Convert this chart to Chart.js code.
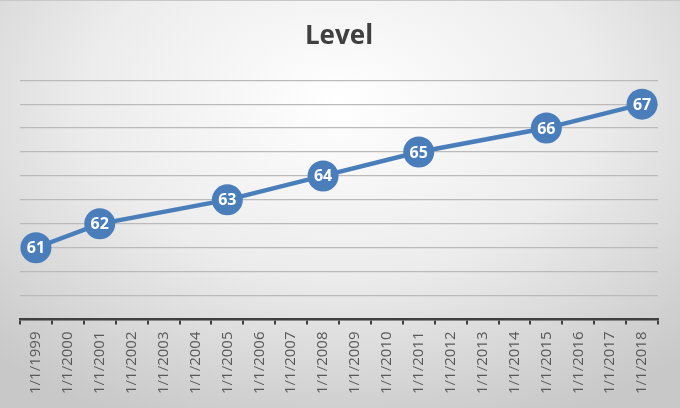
<!DOCTYPE html>
<html>
<head>
<meta charset="utf-8">
<script src="https://cdn.jsdelivr.net/npm/chart.js@4/dist/chart.umd.min.js"></script>
<style>
html,body{margin:0;padding:0;}
body{width:680px;height:408px;overflow:hidden;
background: radial-gradient(ellipse 75% 85% at 50% 25%, #ffffff 0%, #ececec 50%, #d2d2d2 85%, #c8c8c8 100%);}
#wrap{position:absolute;left:0;top:0;width:680px;height:408px;box-sizing:border-box;border-top:1px solid #c8c8c8;}
canvas{display:block;}
</style>
</head>
<body>
<div id="wrap"><canvas id="c" width="680" height="408"></canvas></div>
<script>
const categories = ["1/1/1999","1/1/2000","1/1/2001","1/1/2002","1/1/2003","1/1/2004","1/1/2005","1/1/2006","1/1/2007","1/1/2008","1/1/2009","1/1/2010","1/1/2011","1/1/2012","1/1/2013","1/1/2014","1/1/2015","1/1/2016","1/1/2017","1/1/2018"];
const levelValues = [61,null,62,null,null,null,63,null,null,64,null,null,65,null,null,null,66,null,null,67];
const titleText = "Level";
const yMin = 58, yMax = 68, yStep = 1;

const pointLabels = {
  id:'pointLabels',
  afterDatasetsDraw(chart){
    const ctx = chart.ctx;
    chart.data.datasets.forEach((ds,i)=>{
      const meta = chart.getDatasetMeta(i);
      meta.data.forEach((el,j)=>{
        const v = ds.data[j];
        if(v===null||v===undefined) return;
        ctx.save();
        ctx.fillStyle='#ffffff';
        ctx.font='bold 16px "Open Sans", sans-serif';
        ctx.textAlign='center';
        ctx.textBaseline='middle';
        ctx.fillText(String(v), el.x, el.y+1);
        ctx.restore();
      });
    });
  }
};

new Chart(document.getElementById('c'),{
  type:'line',
  data:{labels:categories,datasets:[{
    data:levelValues,
    spanGaps:true,
    borderColor:'#4a7ebb',
    backgroundColor:'#4a7ebb',
    borderWidth:4.5,
    pointRadius:15.5,
    pointHoverRadius:15.5,
    pointBorderWidth:0,
    pointBackgroundColor:'#4a7ebb',
    tension:0
  }]},
  options:{
    responsive:false,
    animation:false,
    events:[],
    layout:{padding:{left:20,right:22,top:0,bottom:8}},
    plugins:{
      legend:{display:false},
      tooltip:{enabled:false},
      title:{display:true,text:titleText,color:'#404040',
        font:{family:'"Open Sans", sans-serif',size:26,weight:'bold'},
        padding:{top:20,bottom:28}}
    },
    scales:{
      x:{
        offset:true,
        grid:{offset:true,drawOnChartArea:false,drawTicks:true,tickLength:5,color:'#404040',lineWidth:2},
        border:{display:true,color:'#404040',width:2.5},
        ticks:{maxRotation:90,minRotation:90,autoSkip:false,color:'#595959',padding:7,
          font:{family:'"Open Sans", sans-serif',size:15}}
      },
      y:{
        min:yMin,max:yMax,
        ticks:{display:false,stepSize:yStep},
        grid:{drawTicks:false,color:'#bababa',lineWidth:1.2},
        border:{display:false}
      }
    }
  },
  plugins:[pointLabels]
});
</script>
</body>
</html>
